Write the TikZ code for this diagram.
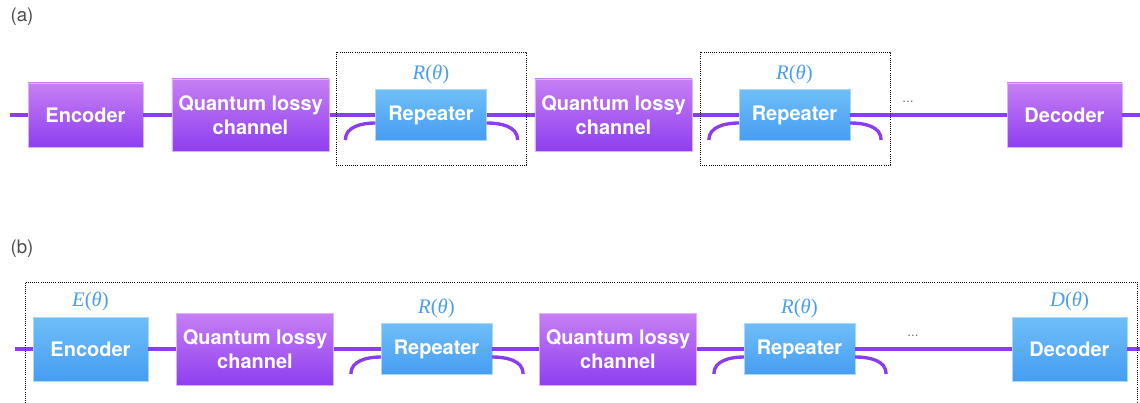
\documentclass[tikz,border=0pt]{standalone}
\usepackage{fontspec}
\setsansfont{TeX Gyre Heros}
\newfontfamily\paramfont{Liberation Serif}
\usepackage{xcolor}
\usetikzlibrary{positioning}

\definecolor{violettop}{HTML}{C77FF3}
\definecolor{violetbot}{HTML}{8E3FF0}
\definecolor{bluetop}{HTML}{6FBEF8}
\definecolor{bluebot}{HTML}{469DF2}
\definecolor{wirecol}{HTML}{8A3DF0}
\definecolor{labcol}{HTML}{4A9EF0}

\begin{document}
\begin{tikzpicture}[x=0.75pt,y=0.75pt,
  blk/.style={rectangle,inner sep=0pt,text=white,align=center,
    font=\sffamily\bfseries\fontsize{15}{18}\selectfont,line width=0.5pt},
  violetblk/.style={blk,top color=violettop,bottom color=violetbot,draw=violettop!60!white},
  blueblk/.style={blk,top color=bluetop,bottom color=bluebot,draw=bluetop!60!white},
  codec/.style={minimum width=86pt,minimum height=48pt},
  chan/.style={minimum width=118pt,minimum height=54pt},
  rep/.style={minimum width=83pt,minimum height=38pt},
  wire/.style={wirecol,line width=2.5pt},
  param/.style={text=labcol,inner sep=1pt,font=\paramfont\fontsize{15.5}{17}\selectfont},
  panel/.style={text=black!70,font=\sffamily\fontsize{14}{16}\selectfont},
  gap/.style={text=black!55,font=\sffamily\fontsize{10}{11}\selectfont},
  dotbox/.style={densely dotted,line width=0.6pt}]
\useasboundingbox (0,0) rectangle (1140,-403);

% (a) repeaters only
\node[panel] (tagA) at (22,-17) {(a)};
\coordinate (inA) at (10,-115);
\coordinate (outA) at (1140,-115);
\node[violetblk,codec] (encA) at (85.5,-115) {Encoder};
\node[violetblk,chan] (chanA1) at (250.5,-115) {Quantum lossy\\channel};
\node[blueblk,rep] (repA1) at (431,-115) {Repeater};
\node[violetblk,chan] (chanA2) at (613.5,-115) {Quantum lossy\\channel};
\node[blueblk,rep] (repA2) at (794.5,-115) {Repeater};
\node[violetblk,codec] (decA) at (1064.5,-115) {Decoder};
\node[gap] (dotsA) at (908,-102) {...};
\node[param,above=3pt of repA1] (parA1) {\textit{R}(\textit{θ})};
\node[param,above=3pt of repA2] (parA2) {\textit{R}(\textit{θ})};

\draw[wire] (inA) -- (encA) -- (chanA1) -- (repA1) -- (chanA2) -- (repA2) -- (decA) -- (outA);
\foreach \r in {repA1,repA2} {
  \draw[wire] ([yshift=-6pt]\r.west) to[out=180,in=90] ++(-30,-17);
  \draw[wire] ([yshift=-6pt]\r.east) to[out=0,in=90] ++(31,-17);
}
\draw[dotbox] (336,-52) rectangle (526,-165);
\draw[dotbox] (700,-52) rectangle (890,-165);

% (b) everything trainable
\node[panel] (tagB) at (22,-249) {(b)};
\coordinate (inB) at (15,-349);
\coordinate (outB) at (1140,-349);
\node[blueblk,codec] (encB) at (90.5,-349) {Encoder};
\node[violetblk,chan] (chanB1) at (255,-349) {Quantum lossy\\channel};
\node[blueblk,rep] (repB1) at (436.5,-349) {Repeater};
\node[violetblk,chan] (chanB2) at (618,-349) {Quantum lossy\\channel};
\node[blueblk,rep] (repB2) at (799.5,-349) {Repeater};
\node[blueblk,codec] (decB) at (1069.5,-349) {Decoder};
\node[gap] (dotsB) at (913,-336) {...};
\node[param,above=3pt of encB] (parE) {\textit{E}(\textit{θ})};
\node[param,above=3pt of repB1] (parB1) {\textit{R}(\textit{θ})};
\node[param,above=3pt of repB2] (parB2) {\textit{R}(\textit{θ})};
\node[param,above=3pt of decB] (parD) {\textit{D}(\textit{θ})};

\draw[wire] (inB) -- (encB) -- (chanB1) -- (repB1) -- (chanB2) -- (repB2) -- (decB) -- (outB);
\foreach \r in {repB1,repB2} {
  \draw[wire] ([yshift=-6pt]\r.west) to[out=180,in=90] ++(-30,-17);
  \draw[wire] ([yshift=-6pt]\r.east) to[out=0,in=90] ++(31,-17);
}
\draw[dotbox] (25,-403) -- (25,-282) -- (1137,-282) -- (1137,-403);
\end{tikzpicture}
\end{document}
